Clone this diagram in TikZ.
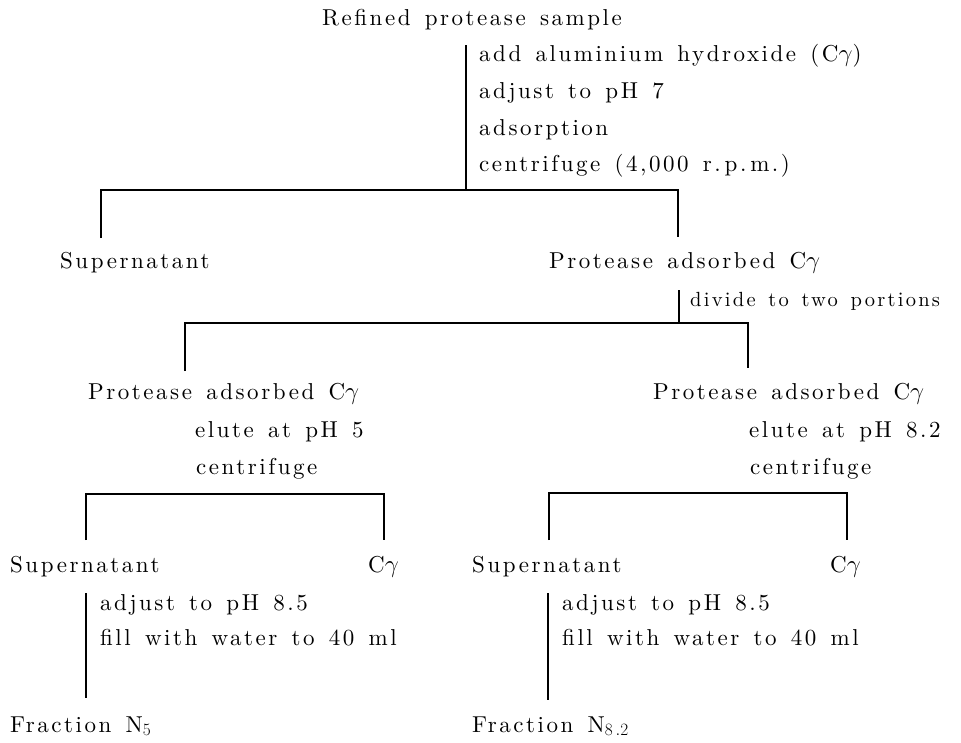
\documentclass[tikz,border=0pt]{standalone}
\usepackage{fontspec}
\setmainfont{lmroman10-regular.otf}[LetterSpace=11,WordSpace=1.4]
\begin{document}
\begin{tikzpicture}[x=1pt,y=-1pt,
  lbl/.style={anchor=base west,inner sep=0pt,font=\fontsize{23}{30}\selectfont},
  lblsmall/.style={anchor=base west,inner sep=0pt,font=\fontsize{20.5}{30}\selectfont},
  ln/.style={line width=1.4pt}]
\useasboundingbox[fill=white] (0,0) rectangle (961,742);
% texts
\node[lbl] (root) at (322,25) {Refined protease sample};
\node[lbl] (s1) at (479,61) {add aluminium hydroxide (C$\gamma$)};
\node[lbl] (s2) at (479,98) {adjust to pH 7};
\node[lbl] (s3) at (479,135) {adsorption};
\node[lbl] (s4) at (479,171) {centrifuge (4,000 r.\,p.\,m.)};
\node[lbl] (sup1) at (60,268) {Supernatant};
\node[lbl] (pac) at (549,268) {Protease adsorbed C$\gamma$};
\node[lblsmall] (div) at (690,306) {divide to two portions};
\node[lbl] (pacL) at (88,399) {Protease adsorbed C$\gamma$};
\node[lbl] (pacR) at (653,399) {Protease adsorbed C$\gamma$};
\node[lbl] (eL) at (195,437) {elute at pH 5};
\node[lbl] (cL) at (196,474) {centrifuge};
\node[lbl] (eR) at (749,437) {elute at pH 8.2};
\node[lbl] (cR) at (750,474) {centrifuge};
\node[lbl] (supL) at (10,572) {Supernatant};
\node[lbl] (cgL) at (368,572) {C$\gamma$};
\node[lbl] (supR) at (472,572) {Supernatant};
\node[lbl] (cgR) at (830,572) {C$\gamma$};
\node[lbl] (aL) at (100,610) {adjust to pH 8.5};
\node[lbl] (fL) at (100,645) {fill with water to 40 ml};
\node[lbl] (aR) at (562,610) {adjust to pH 8.5};
\node[lbl] (fR) at (562,645) {fill with water to 40 ml};
\node[lbl] (frL) at (10,732) {Fraction N$_5$};
\node[lbl] (frR) at (472,732) {Fraction N$_{8\,.2}$};
% coordinates
\coordinate (a1) at (466,45);
\coordinate (a2) at (466,190);
\coordinate (b1) at (101,190);
\coordinate (b2) at (678,190);
\coordinate (b1d) at (101,238);
\coordinate (b2d) at (678,237);
\coordinate (c1) at (679,290);
\coordinate (c2) at (679,323);
\coordinate (d1) at (185,323);
\coordinate (d2) at (748,323);
\coordinate (d1d) at (185,371);
\coordinate (d2d) at (748,368);
\coordinate (e1) at (86,494);
\coordinate (e2) at (384,494);
\coordinate (e1d) at (86,540);
\coordinate (e2d) at (384,540);
\coordinate (f1) at (549,493);
\coordinate (f2) at (847,493);
\coordinate (f1d) at (549,540);
\coordinate (f2d) at (847,540);
\coordinate (g1) at (86,593);
\coordinate (g2) at (86,698);
\coordinate (h1) at (548,593);
\coordinate (h2) at (548,700);
% connectors
\draw[ln] (a1) -- (a2);
\draw[ln] (b1d) -- (b1) -- (b2) -- (b2d);
\draw[ln] (c1) -- (c2);
\draw[ln] (d1d) -- (d1) -- (d2) -- (d2d);
\draw[ln] (e1d) -- (e1) -- (e2) -- (e2d);
\draw[ln] (f1d) -- (f1) -- (f2) -- (f2d);
\draw[ln] (g1) -- (g2);
\draw[ln] (h1) -- (h2);
\end{tikzpicture}
\end{document}
